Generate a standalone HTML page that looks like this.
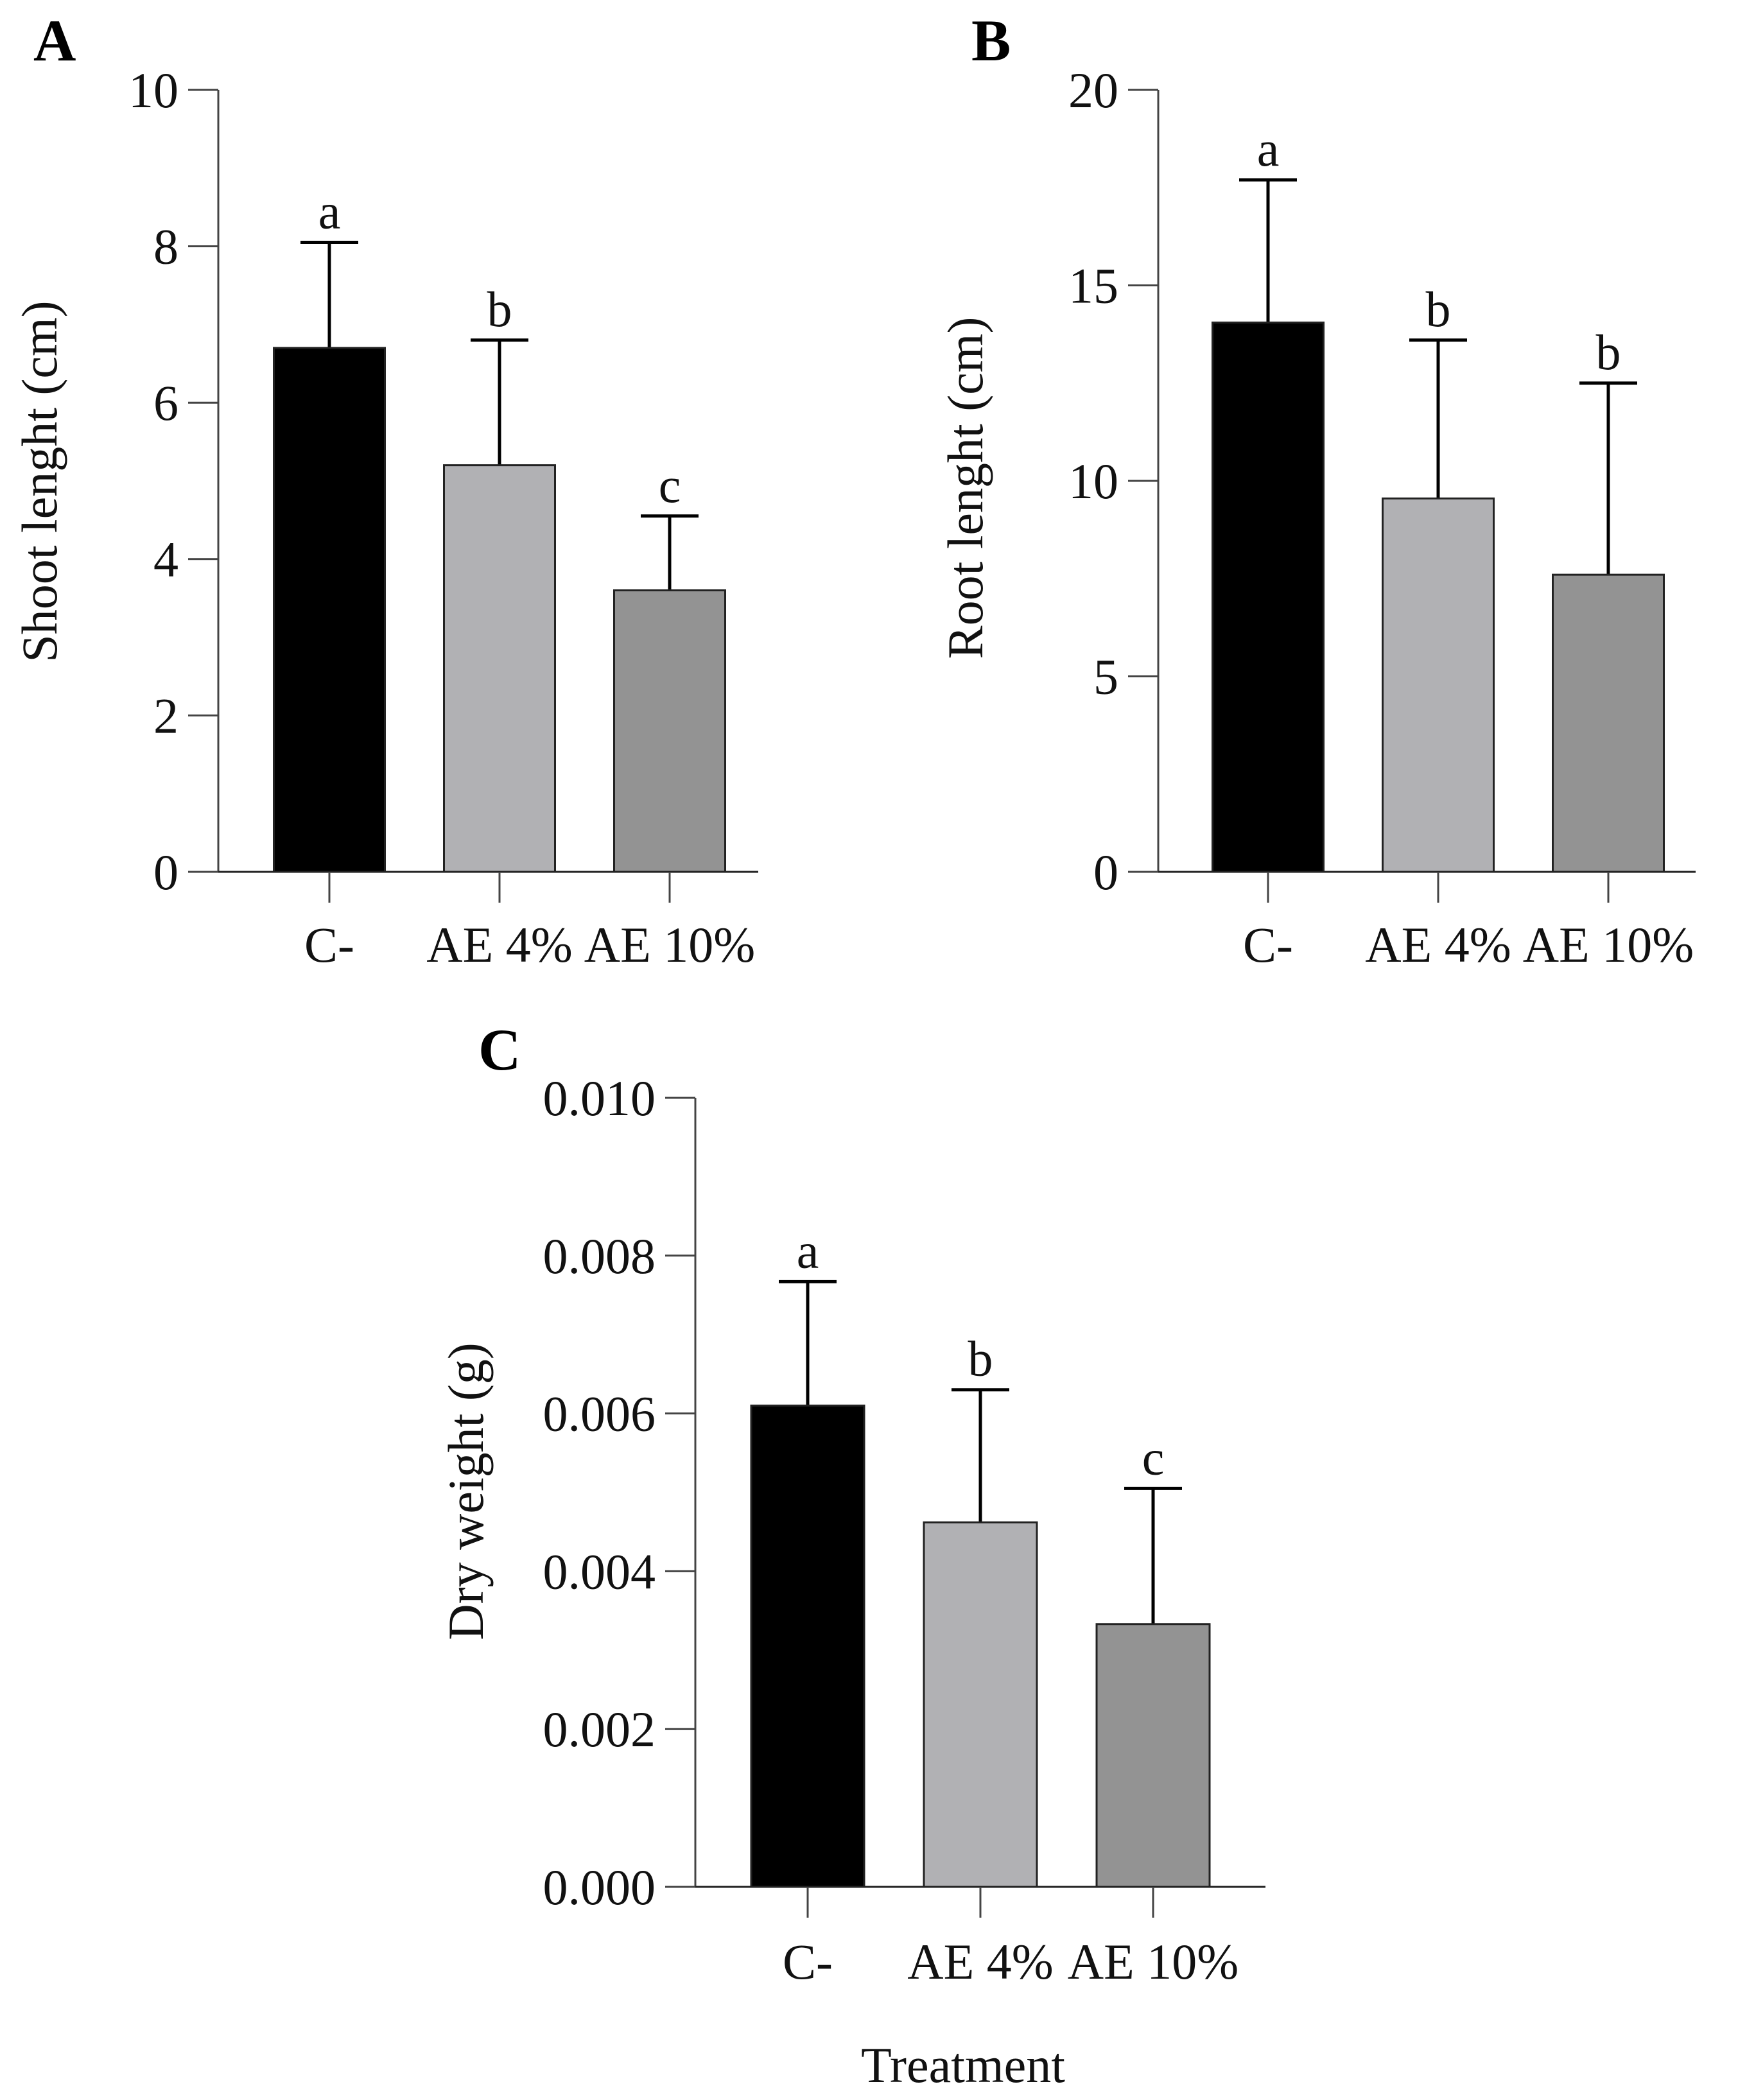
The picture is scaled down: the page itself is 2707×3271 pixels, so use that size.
<!DOCTYPE html>
<html><head><meta charset="utf-8"><style>
html,body{margin:0;padding:0;background:#fff;}
svg{display:block;font-family:"Liberation Serif",serif;}
</style></head><body>
<svg id="chart" width="2707" height="3271" viewBox="0 0 2707 3271" xmlns="http://www.w3.org/2000/svg"></svg>
<script>
const categories = ["C-", "AE 4%", "AE 10%"];
const shootMeans = [6.7, 5.2, 3.6];
const shootErrTop = [8.05, 6.8, 4.55];
const shootLetters = ["a", "b", "c"];
const shootTicks = [0, 2, 4, 6, 8, 10];
const shootTickLabels = ["0", "2", "4", "6", "8", "10"];
const rootMeans = [14.05, 9.55, 7.6];
const rootErrTop = [17.7, 13.6, 12.5];
const rootLetters = ["a", "b", "b"];
const rootTicks = [0, 5, 10, 15, 20];
const rootTickLabels = ["0", "5", "10", "15", "20"];
const dryMeans = [0.0061, 0.00462, 0.00333];
const dryErrTop = [0.00767, 0.0063, 0.00505];
const dryLetters = ["a", "b", "c"];
const dryTicks = [0, 0.002, 0.004, 0.006, 0.008, 0.010];
const dryTickLabels = ["0.000", "0.002", "0.004", "0.006", "0.008", "0.010"];
const barColors = ["#000000", "#b1b1b4", "#939393"];

const NS = "http://www.w3.org/2000/svg";
const svg = document.getElementById("chart");
function mk(tag, attrs, parent) {
  const e = document.createElementNS(NS, tag);
  for (const k in attrs) e.setAttribute(k, attrs[k]);
  (parent || svg).appendChild(e);
  return e;
}

function panel(p) {
  const g = mk("g", {});
  
  
  const yS = v => p.y0 - (v - p.min) / (p.max - p.min) * (p.y0 - p.yTop);
  const xS = i => p.centers[0] + i * p.step;
  const ya = mk("line", {x1: p.axisX, y1: p.yTop, x2: p.axisX, y2: p.y0, stroke: "#444", "stroke-width": 3}, g);
  
  
  const xa = mk("line", {x1: p.axisX - 47, y1: p.y0, x2: p.xEnd, y2: p.y0, stroke: "#222", "stroke-width": 3}, g);
  
  
  p.ticks.forEach((t, i) => {
    const y = yS(t);
    const tl = mk("line", {x1: p.axisX - 47, y1: y, x2: p.axisX, y2: y, stroke: "#444", "stroke-width": 3}, g);
    
    
    const tx = mk("text", {x: p.axisX - 62, y: y + 27, "text-anchor": "end", "font-size": 78, fill: "#111"}, g);
    tx.textContent = p.tickLabels[i];
    
    
  });
  categories.forEach((c, i) => {
    const cx = xS(i);
    const top = yS(p.means[i]);
    const et = yS(p.errTop[i]);
    const eb = mk("line", {x1: cx, y1: et, x2: cx, y2: top, stroke: "#000", "stroke-width": 5}, g);
    
    
    const cap = mk("line", {x1: cx - 45, y1: et, x2: cx + 45, y2: et, stroke: "#000", "stroke-width": 5}, g);
    
    
    const r = mk("rect", {x: cx - p.barW / 2, y: top, width: p.barW, height: p.y0 - top, fill: barColors[i], stroke: "#222", "stroke-width": 3}, g);
    
    
    const lt = mk("text", {x: cx, y: et - 22, "text-anchor": "middle", "font-size": 78, fill: "#111"}, g);
    lt.textContent = p.letters[i];
    
    
    const xt = mk("line", {x1: cx, y1: p.y0, x2: cx, y2: p.y0 + 48, stroke: "#444", "stroke-width": 3}, g);
    
    
    const xl = mk("text", {x: cx, y: p.xLabelY, "text-anchor": "middle", "font-size": 78, fill: "#111"}, g);
    xl.textContent = c;
    
    
  });
  const yt = mk("text", {x: 0, y: 0, "text-anchor": "middle", "font-size": 78, fill: "#111",
    transform: "translate(" + p.titleX + "," + p.titleY + ") rotate(-90)"}, g);
  yt.textContent = p.title;
  
  
  const pl = mk("text", {x: p.letterX, y: p.letterY, "font-size": 92, "font-weight": "bold", fill: "#000"}, g);
  pl.textContent = p.panelLetter;
  
  
}

panel({name: "panel-a-shoot-length", axisX: 340, y0: 1358, yTop: 140, xEnd: 1181, min: 0, max: 10,
  centers: [513], step: 265, barW: 173, means: shootMeans, errTop: shootErrTop, letters: shootLetters,
  ticks: shootTicks, tickLabels: shootTickLabels, xLabelY: 1498, title: "Shoot lenght (cm)",
  titleX: 88, titleY: 750, panelLetter: "A", letterX: 52, letterY: 94});
panel({name: "panel-b-root-length", axisX: 1804, y0: 1358, yTop: 140, xEnd: 2641, min: 0, max: 20,
  centers: [1975], step: 265, barW: 173, means: rootMeans, errTop: rootErrTop, letters: rootLetters,
  ticks: rootTicks, tickLabels: rootTickLabels, xLabelY: 1498, title: "Root lenght (cm)",
  titleX: 1530, titleY: 760, panelLetter: "B", letterX: 1513, letterY: 94});
panel({name: "panel-c-dry-weight", axisX: 1083, y0: 2939, yTop: 1710, xEnd: 1971, min: 0, max: 0.010,
  centers: [1258], step: 269, barW: 176, means: dryMeans, errTop: dryErrTop, letters: dryLetters,
  ticks: dryTicks, tickLabels: dryTickLabels, xLabelY: 3082, title: "Dry weight (g)",
  titleX: 752, titleY: 2323, panelLetter: "C", letterX: 745, letterY: 1666});

const tt = mk("text", {x: 1500, y: 3243, "text-anchor": "middle", "font-size": 78, fill: "#111"});
tt.textContent = "Treatment";


</script>
</body></html>
